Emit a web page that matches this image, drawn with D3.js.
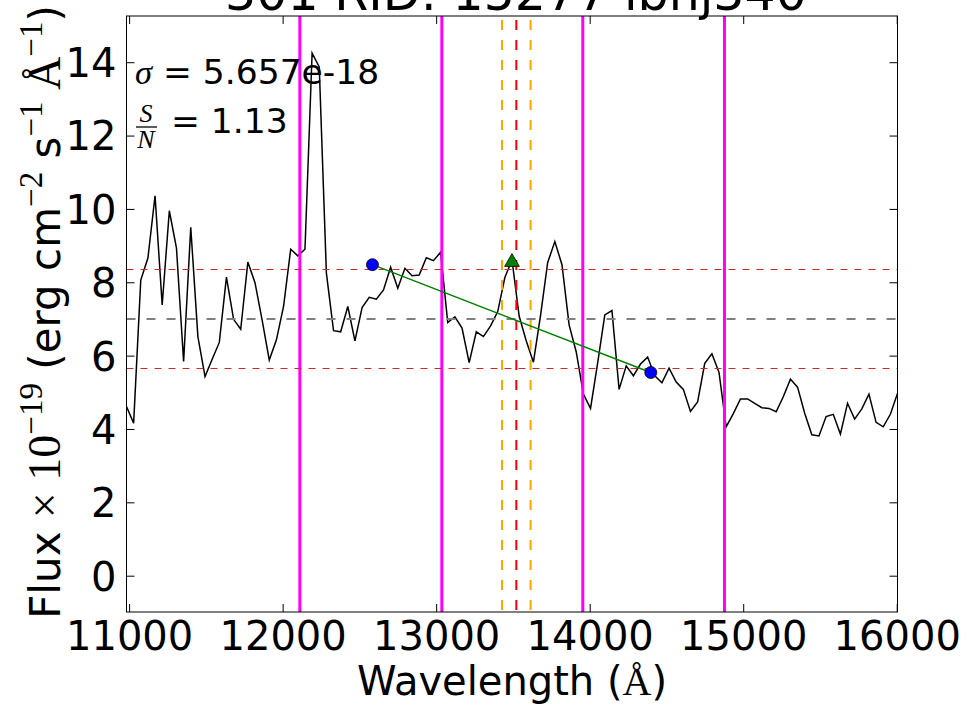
<!DOCTYPE html>
<html>
<head>
<meta charset="utf-8">
<script src="https://cdn.jsdelivr.net/npm/d3@7"></script>
<style>
  html, body { margin: 0; padding: 0; background: #fff; }
  svg { display: block; }
  text { font-family: "DejaVu Sans", sans-serif; fill: #000; }
  .math { font-family: "Liberation Serif", "DejaVu Serif", serif; }
</style>
</head>
<body>
<svg id="chart" width="973" height="707"></svg>
<script>
// Spectrum: wavelength (Å) and flux (×1e-19 erg cm^-2 s^-1 Å^-1)
const wavelength = [
  10983, 11029.5, 11076, 11122.5, 11169, 11215.5, 11262, 11308.5, 11355, 11401.5,
  11448, 11494.5, 11541, 11587.5, 11634, 11680.5, 11727, 11773.5, 11820, 11866.5,
  11913, 11959.5, 12006, 12052.5, 12099, 12145.5, 12192, 12238.5, 12285, 12331.5,
  12378, 12424.5, 12471, 12517.5, 12564, 12610.5, 12657, 12703.5, 12750, 12796.5,
  12843, 12889.5, 12936, 12982.5, 13029, 13075.5, 13122, 13168.5, 13215, 13261.5,
  13308, 13354.5, 13401, 13447.5, 13494, 13540.5, 13587, 13633.5, 13680, 13726.5,
  13773, 13819.5, 13866, 13912.5, 13959, 14005.5, 14052, 14098.5, 14145, 14191.5,
  14238, 14284.5, 14331, 14377.5, 14424, 14470.5, 14517, 14563.5, 14610, 14656.5,
  14703, 14749.5, 14796, 14842.5, 14889, 14935.5, 14982, 15028.5, 15075, 15121.5,
  15168, 15214.5, 15261, 15307.5, 15354, 15400.5, 15447, 15493.5, 15540, 15586.5,
  15633, 15679.5, 15726, 15772.5, 15819, 15865.5, 15912, 15958.5, 16005
];
const flux = [
  4.61, 4.16, 8.06, 8.66, 10.36, 7.38, 9.95, 8.93, 5.84, 9.50,
  6.52, 5.43, 5.90, 6.36, 8.14, 6.99, 6.72, 8.55, 7.99, 6.97,
  5.88, 6.43, 7.34, 8.90, 8.72, 8.90, 14.25, 13.87, 8.25, 6.68,
  6.65, 7.34, 6.40, 7.31, 7.59, 7.54, 7.79, 8.41, 7.84, 8.38,
  8.18, 8.20, 8.67, 8.59, 8.82, 6.90, 7.06, 6.75, 5.81, 6.65,
  6.52, 6.81, 7.20, 8.13, 8.61, 7.08, 6.40, 5.82, 7.10, 8.54,
  9.11, 8.48, 6.84, 6.10, 4.95, 4.56, 5.80, 7.11, 7.23, 5.08,
  5.72, 5.45, 5.77, 5.96, 5.45, 5.26, 5.66, 5.28, 5.08, 4.48,
  4.74, 5.79, 6.05, 5.54, 4.06, 4.42, 4.82, 4.82, 4.70, 4.58,
  4.56, 4.47, 4.88, 5.36, 5.14, 4.43, 3.84, 3.81, 4.34, 4.40,
  3.86, 4.70, 4.27, 4.55, 4.95, 4.18, 4.06, 4.40, 4.97
];

// Reference lines
const edgeLines = [12112, 13037, 13955, 14878];      // solid magenta
const lineCenter = [13522];                            // red dashed
const lineWindow = [13429, 13615];                     // orange dashed
const levelMid = [7.01];                               // gray dashed
const levelBand = [8.36, 5.657];                       // red dashed

// Continuum anchors and the line peak
const contX = [12585, 14398];
const contY = [8.48, 5.54];
const peakX = [13494];
const peakY = [8.55];

// Axis ticks and text
const xTicks = [11000, 12000, 13000, 14000, 15000, 16000];
const yTicks = [0, 2, 4, 6, 8, 10, 12, 14];
const titleText = "301 RID: 15277 ibhj340";
const sigmaText = "5.657e-18";
const snText = "1.13";

const W = 973, H = 707;
const m = { left: 126.5, right: 897.5, top: 16, bottom: 612 };

const svg = d3.select("#chart");
const x = d3.scaleLinear().domain([10983, 16005]).range([m.left, m.right]);
const y = d3.scaleLinear().domain([-0.99, 15.26]).range([m.bottom, m.top]);

svg.append("defs").append("clipPath").attr("id", "plotclip")
  .append("rect").attr("x", m.left).attr("y", m.top)
  .attr("width", m.right - m.left).attr("height", m.bottom - m.top);

const plot = svg.append("g").attr("clip-path", "url(#plotclip)");

// spectrum
plot.append("path")
  .datum(d3.zip(wavelength, flux))
  .attr("fill", "none").attr("stroke", "#000").attr("stroke-width", 1.5)
  .attr("stroke-linejoin", "miter")
  .attr("d", d3.line().x(d => x(d[0])).y(d => y(d[1])));

// magenta edges
plot.selectAll(".edge").data(edgeLines).join("line")
  .attr("class", "edge")
  .attr("x1", d => x(d)).attr("x2", d => x(d))
  .attr("y1", m.top).attr("y2", m.bottom)
  .attr("stroke", "#ff00ff").attr("stroke-width", 3);

// line window
plot.selectAll(".win").data(lineWindow).join("line")
  .attr("class", "win")
  .attr("x1", d => x(d)).attr("x2", d => x(d))
  .attr("y1", m.top).attr("y2", m.bottom)
  .attr("stroke", "#ffa500").attr("stroke-width", 2)
  .attr("stroke-dasharray", "10,10").attr("stroke-dashoffset", -4);
plot.selectAll(".ctr").data(lineCenter).join("line")
  .attr("class", "ctr")
  .attr("x1", d => x(d)).attr("x2", d => x(d))
  .attr("y1", m.top).attr("y2", m.bottom)
  .attr("stroke", "#ff0000").attr("stroke-width", 2)
  .attr("stroke-dasharray", "10,10").attr("stroke-dashoffset", -4);

// horizontal levels
plot.selectAll(".mid").data(levelMid).join("line")
  .attr("class", "mid")
  .attr("x1", m.left).attr("x2", m.right)
  .attr("y1", d => Math.round(y(d))).attr("y2", d => Math.round(y(d)))
  .attr("stroke", "#808080").attr("stroke-width", 2)
  .attr("stroke-dasharray", "9,11");
plot.selectAll(".band").data(levelBand).join("line")
  .attr("class", "band")
  .attr("x1", m.left).attr("x2", m.right)
  .attr("y1", d => Math.round(y(d)) + 0.5).attr("y2", d => Math.round(y(d)) + 0.5)
  .attr("stroke", "#d02828").attr("stroke-width", 1.2)
  .attr("stroke-dasharray", "7,7");

// continuum fit
plot.append("line")
  .attr("x1", x(contX[0])).attr("y1", y(contY[0]))
  .attr("x2", x(contX[1])).attr("y2", y(contY[1]))
  .attr("stroke", "#008000").attr("stroke-width", 1.5);

plot.selectAll(".anchor").data(d3.zip(contX, contY)).join("circle")
  .attr("class", "anchor")
  .attr("cx", d => x(d[0])).attr("cy", d => y(d[1])).attr("r", 6)
  .attr("fill", "#0000ff").attr("stroke", "#000").attr("stroke-width", 0.8);

plot.selectAll(".peak").data(d3.zip(peakX, peakY)).join("path")
  .attr("class", "peak")
  .attr("transform", d => `translate(${x(d[0])},${y(d[1])})`)
  .attr("d", d3.symbol().type(d3.symbolTriangle).size(95))
  .attr("fill", "#008000").attr("stroke", "#000").attr("stroke-width", 0.8);

// frame
svg.append("rect").attr("x", m.left).attr("y", m.top)
  .attr("width", m.right - m.left).attr("height", m.bottom - m.top)
  .attr("fill", "none").attr("stroke", "#000").attr("stroke-width", 1);

// axes: inward ticks on all sides
const fs = 40;
const axB = svg.append("g").attr("transform", `translate(0,${m.bottom})`)
  .call(d3.axisBottom(x).tickValues(xTicks).tickFormat(d3.format("d"))
    .tickSizeInner(-8).tickSizeOuter(0).tickPadding(10));
const axT = svg.append("g").attr("transform", `translate(0,${m.top})`)
  .call(d3.axisTop(x).tickValues(xTicks).tickFormat("")
    .tickSizeInner(-8).tickSizeOuter(0));
const axL = svg.append("g").attr("transform", `translate(${m.left},0)`)
  .call(d3.axisLeft(y).tickValues(yTicks).tickFormat(d3.format("d"))
    .tickSizeInner(-8).tickSizeOuter(0).tickPadding(10));
const axR = svg.append("g").attr("transform", `translate(${m.right},0)`)
  .call(d3.axisRight(y).tickValues(yTicks).tickFormat("")
    .tickSizeInner(-8).tickSizeOuter(0));
[axB, axT, axL, axR].forEach(g => {
  g.select(".domain").remove();
  g.selectAll(".tick line").attr("stroke", "#000").attr("stroke-width", 1);
  g.selectAll(".tick text").attr("font-family", "DejaVu Sans")
    .attr("font-size", fs).attr("fill", "#000");
});
axL.selectAll(".tick text").attr("dy", "0.36em");

// title (sits partly above the figure edge)
svg.append("text").attr("x", (m.left + m.right) / 2 + 4).attr("y", 10)
  .attr("text-anchor", "middle").attr("font-size", 49).text(titleText);

// x label
const xl = svg.append("text").attr("x", (m.left + m.right) / 2).attr("y", 695)
  .attr("text-anchor", "middle").attr("font-size", fs);
xl.append("tspan").text("Wavelength (");
xl.append("tspan").attr("class", "math").text("Å");
xl.append("tspan").text(")");

// y label
const yl = svg.append("text")
  .attr("transform", `translate(60,${(m.top + m.bottom) / 2 - 2}) rotate(-90)`)
  .attr("text-anchor", "middle").attr("font-size", 42);
const sup = (t) => yl.append("tspan").attr("class", "math")
  .attr("font-size", 33).attr("baseline-shift", "18").text(t);
yl.append("tspan").text("Flux ");
yl.append("tspan").attr("class", "math").attr("font-size", 46).text("× 10");
sup("−19");
yl.append("tspan").text(" (erg cm");
sup("−2");
yl.append("tspan").text(" s");
sup("−1");
yl.append("tspan").attr("class", "math").attr("font-size", 46).text(" Å");
sup("−1");
yl.append("tspan").text(")");

// statistics annotation
const ann = svg.append("text").attr("x", 135).attr("y", 84).attr("font-size", 34.5);
ann.append("tspan").attr("class", "math").attr("font-style", "italic").text("σ");
ann.append("tspan").text(" = " + sigmaText);

svg.append("text").attr("class", "math").attr("font-style", "italic")
  .attr("x", 146).attr("y", 122).attr("text-anchor", "middle").attr("font-size", 26).text("S");
svg.append("line").attr("x1", 136).attr("x2", 157).attr("y1", 127).attr("y2", 127)
  .attr("stroke", "#000").attr("stroke-width", 1.3);
svg.append("text").attr("class", "math").attr("font-style", "italic")
  .attr("x", 146).attr("y", 148).attr("text-anchor", "middle").attr("font-size", 26).text("N");
svg.append("text").attr("x", 171).attr("y", 133).attr("font-size", 34.5).text("= " + snText);
</script>
</body>
</html>
